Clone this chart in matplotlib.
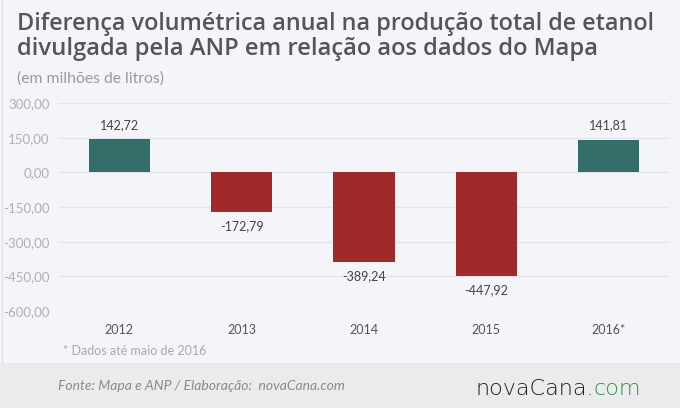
import matplotlib.pyplot as plt
import numpy as np

anos = ['2012', '2013', '2014', '2015', '2016*']
diferenca = [142.72, -172.79, -389.24, -447.92, 141.81]
rotulos = ['142,72', '-172,79', '-389,24', '-447,92', '141,81']
yticks = [300, 150, 0, -150, -300, -450, -600]
ytick_labels = ['300,00', '150,00', '0,00', '-150,00', '-300,00', '-450,00', '-600,00']

W, H = 680, 408
fig = plt.figure(figsize=(W / 100, H / 100), dpi=100)
fig.patch.set_facecolor('#f4f5f9')
plt.rcParams['font.family'] = ['Lato', 'DejaVu Sans']


def texto(x0, x1, y, s, **kw):
    # ajusta o tamanho da fonte para ocupar a largura x0..x1 (pixels)
    t = fig.text(x0 / W, 1 - y / H, s, va='baseline', **kw)
    fig.canvas.draw()
    w = t.get_window_extent().width
    t.set_fontsize(t.get_fontsize() * (x1 - x0) / w)
    return t


# rodape
fig.patches.append(plt.Rectangle((0, 0), 1, 45 / H, transform=fig.transFigure,
                                 facecolor='#ebebed', edgecolor='none', zorder=0))
fig.add_artist(plt.Line2D([2 / W, 2 / W], [45 / H, 1], transform=fig.transFigure,
                          color='#e2e2e6', lw=1))

ax = fig.add_axes([58 / W, (H - 311) / H, 612 / W, 208 / H])
ax.set_facecolor('none')
x = np.arange(len(anos))
cores = ['#336e6a' if v > 0 else '#a0292a' for v in diferenca]
ax.bar(x, diferenca, width=0.5, color=cores, zorder=3)
ax.set_xlim(-0.5, 4.5)
ax.set_ylim(-600, 300)
ax.set_yticks(yticks)
ax.set_yticklabels(ytick_labels)
ax.yaxis.grid(True, color='#e4e5ea', lw=0.9, zorder=0)
for s in ax.spines.values():
    s.set_visible(False)
ax.tick_params(axis='y', length=0, pad=6, labelsize=9.5, labelcolor='#b0b0b4')
ax.tick_params(axis='x', length=0, pad=9, labelsize=9, labelcolor='#555555')
ax.set_xticks(x)
ax.set_xticklabels(anos)

for xi, v, r in zip(x, diferenca, rotulos):
    if v > 0:
        ax.annotate(r, (xi, v), xytext=(0, 6), textcoords='offset points',
                    ha='center', va='bottom', fontsize=9, color='#444444')
    else:
        ax.annotate(r, (xi, v), xytext=(0, -6), textcoords='offset points',
                    ha='center', va='top', fontsize=9, color='#444444')

texto(17, 657, 30, 'Diferença volumétrica anual na produção total de etanol',
      fontsize=15, fontweight='semibold', color='#555555', family='Open Sans')
texto(17, 600, 55, 'divulgada pela ANP em relação aos dados do Mapa',
      fontsize=15, fontweight='semibold', color='#555555', family='Open Sans')
texto(17, 165, 83, '(em milhões de litros)', fontsize=9, color='#9a9a9e')
texto(63, 207, 355, '* Dados até maio de 2016', fontsize=8, color='#aaaaae')
texto(58, 343, 390, 'Fonte: Mapa e ANP / Elaboração:  novaCana.com',
      fontsize=8, style='italic', color='#8a8a8e')

t1 = texto(475, 594, 395, 'novaCana.', fontsize=15, color='#1e1e1e',
           family='DejaVu Sans', fontweight=200)
fig.canvas.draw()
bb = t1.get_window_extent()
fig.text(bb.x1 / W, 1 - 395 / H, 'com', fontsize=t1.get_fontsize(), color='#2f9340',
         va='baseline', family='DejaVu Sans', fontweight=200)

fig.savefig('out.png', dpi=100, facecolor=fig.get_facecolor())
